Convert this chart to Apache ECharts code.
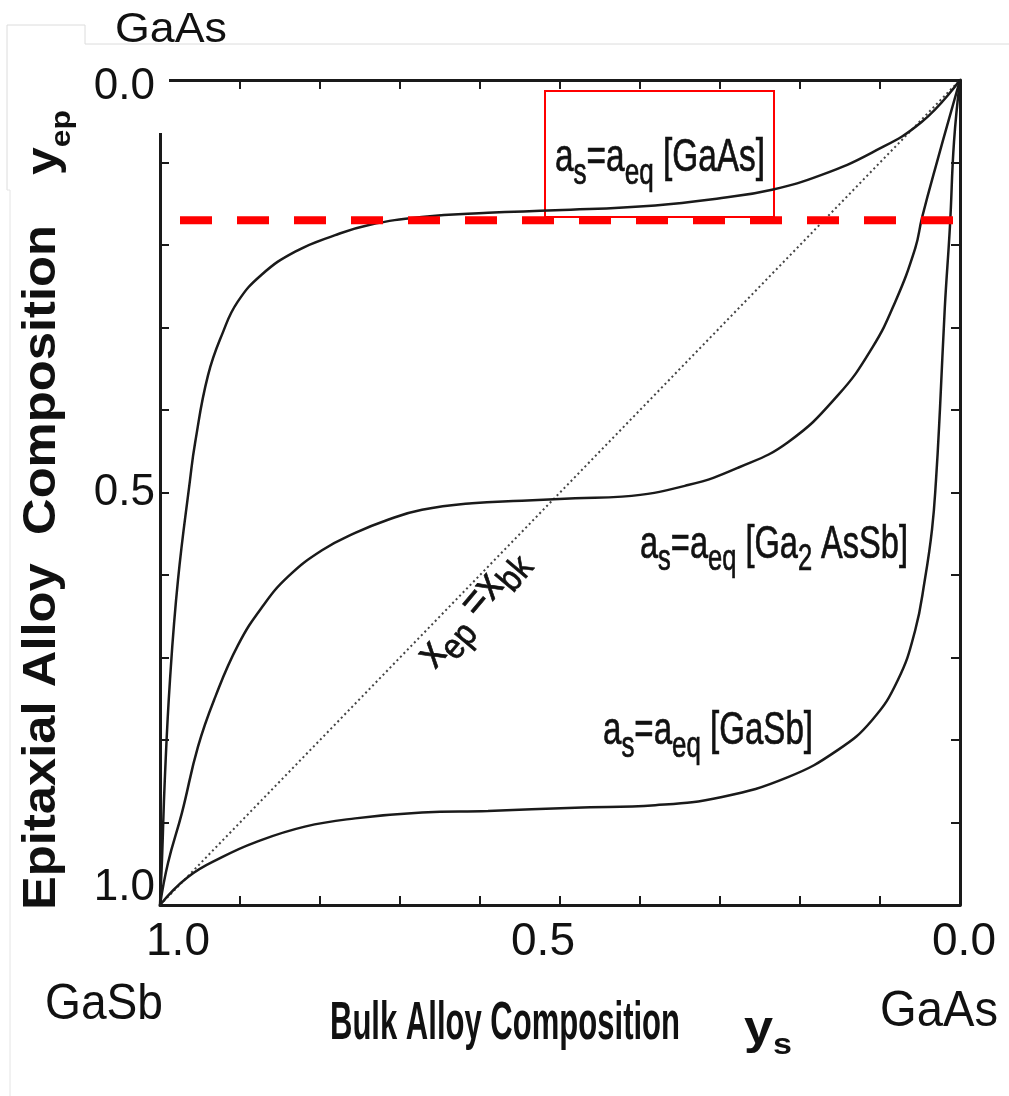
<!DOCTYPE html>
<html>
<head>
<meta charset="utf-8">
<title>Epitaxial vs bulk alloy composition</title>
<script src="https://cdn.jsdelivr.net/npm/echarts@6/dist/echarts.min.js"></script>
<style>
html, body { margin: 0; padding: 0; background: #fff; }
#chart { width: 1009px; height: 1096px; }
</style>
</head>
<body>
<div id="chart"></div>
<script>
// x: bulk alloy composition y_s (1.0 = GaSb on the left, 0.0 = GaAs on the right)
// y: epitaxial alloy composition y_ep (0.0 at the top)
const gaAsBulk = [0, 0.048, 0.110, 0.173, 0.235, 0.298, 0.381, 0.506, 0.590, 0.673, 0.740, 0.781, 0.831, 0.873, 0.903, 0.921, 0.940, 0.956, 0.9625, 0.9775, 0.9875, 0.994, 0.9975, 1.0];
const gaAsEpi  = [0, 0.051, 0.088, 0.115, 0.133, 0.143, 0.152, 0.158, 0.161, 0.166, 0.176, 0.188, 0.208, 0.236, 0.269, 0.305, 0.358, 0.439, 0.485, 0.606, 0.727, 0.848, 0.945, 1.0];

const ga2AsSbBulk = [0, 0.0275, 0.0475, 0.056, 0.081, 0.11, 0.1525, 0.215, 0.2775, 0.34, 0.4225, 0.481, 0.5475, 0.61, 0.6725, 0.715, 0.756, 0.7975, 0.84, 0.8725, 0.9025, 0.931, 0.9525, 0.9725, 0.99, 1.0];
const ga2AsSbEpi  = [0, 0.095, 0.167, 0.204, 0.269, 0.325, 0.382, 0.439, 0.470, 0.491, 0.505, 0.507, 0.510, 0.513, 0.521, 0.533, 0.549, 0.570, 0.602, 0.639, 0.685, 0.748, 0.808, 0.888, 0.949, 1.0];

const gaSbBulk = [0, 0.0075, 0.0125, 0.019, 0.025, 0.03, 0.035, 0.044, 0.056, 0.0775, 0.11, 0.1525, 0.215, 0.2975, 0.381, 0.481, 0.59, 0.6725, 0.756, 0.819, 0.881, 0.9225, 0.965, 1.0];
const gaSbEpi  = [0, 0.075, 0.176, 0.276, 0.398, 0.485, 0.545, 0.606, 0.667, 0.727, 0.776, 0.812, 0.845, 0.869, 0.879, 0.882, 0.886, 0.888, 0.895, 0.905, 0.924, 0.942, 0.966, 1.0];

// x_ep = x_bk reference line
const diagBulk = [1, 0];
const diagEpi  = [1, 0];

// red dashed level and red box round the GaAs label
const dashBulk = [1.0175, 0.006];
const dashEpi  = [0.17, 0.17];
const boxBulk = [0.51875, 0.2325];
const boxEpi  = [0.0133, 0.166];

const xTickValues = [1.0, 0.5, 0.0];
const xTickLabels = ['1.0', '0.5', '0.0'];
const yTickValues = [0.0, 0.5, 1.0];
const yTickLabels = ['0.0', '0.5', '1.0'];

const font = '"Liberation Sans", Arial, sans-serif';
const ink = '#111';

function pairs(xs, ys) {
    return xs.map(function (x, i) { return [x, ys[i]]; });
}

function tickIndex(values, v) {
    for (let i = 0; i < values.length; i++) {
        if (Math.abs(values[i] - v) < 1e-6) return i;
    }
    return -1;
}

// text made of normal and subscript runs, measured so it can be fitted to a width
const measure = document.createElement('canvas').getContext('2d');
function textRun(pieces, o) {
    const children = [];
    let cx = 0;
    pieces.forEach(function (p) {
        const sub = p[1] === 'sub';
        const size = sub ? o.subSize : o.size;
        const f = (o.weight || 'normal') + ' ' + size + 'px ' + font;
        const style = {
            text: p[0], font: f, fill: ink,
            align: 'left', verticalAlign: 'middle',
            textAlign: 'left', textVerticalAlign: 'middle'
        };
        if (o.stroke) {
            style.stroke = ink;
            style.lineWidth = o.stroke;
        }
        children.push({
            type: 'text',
            x: cx,
            y: sub ? 0.35 * (o.size - o.subSize) + o.subDrop : 0,
            style: style
        });
        measure.font = f;
        cx += measure.measureText(p[0]).width;
    });
    return {
        type: 'group',
        x: o.x, y: o.y,
        rotation: (o.angle || 0) * Math.PI / 180,
        scaleX: o.width ? o.width / cx : 1,
        scaleY: o.scaleY || 1,
        z: 10,
        children: children
    };
}

const labels = [
    textRun([['a'], ['s', 'sub'], ['=a'], ['eq', 'sub'], [' [GaAs]']],
        {x: 555, y: 158, size: 46, subSize: 36, subDrop: 13, width: 210, stroke: 0.7}),
    textRun([['a'], ['s', 'sub'], ['=a'], ['eq', 'sub'], [' [Ga'], ['2', 'sub'], [' AsSb]']],
        {x: 640, y: 545, size: 46, subSize: 36, subDrop: 12, width: 268, stroke: 0.7}),
    textRun([['a'], ['s', 'sub'], ['=a'], ['eq', 'sub'], [' [GaSb]']],
        {x: 603, y: 731, size: 46, subSize: 36, subDrop: 13, width: 210, stroke: 0.7}),
    textRun([['x'], ['ep', 'sub'], [' =x'], ['bk', 'sub']],
        {x: 426, y: 662, size: 44, subSize: 36, subDrop: 10, width: 142, angle: 50, stroke: 0.7}),
    textRun([['GaAs']], {x: 115, y: 30, size: 43, width: 112}),
    textRun([['GaSb']], {x: 45, y: 1005, size: 46, width: 118, scaleY: 1.08}),
    textRun([['GaAs']], {x: 880, y: 1012, size: 46, width: 118, scaleY: 1.08}),
    textRun([['Bulk Alloy Composition']],
        {x: 330, y: 1024, size: 48, weight: 'bold', width: 350, scaleY: 1.12}),
    textRun([['y'], ['s', 'sub']],
        {x: 744, y: 1030, size: 46, subSize: 30, subDrop: 10, weight: 'bold', width: 48}),
    textRun([['Epitaxial Alloy  Composition']],
        {x: 42, y: 910, size: 46, weight: 'bold', width: 685, angle: 90}),
    textRun([['y'], ['ep', 'sub']],
        {x: 45, y: 175, size: 44, subSize: 28, subDrop: 12, weight: 'bold', width: 65, angle: 90})
];

// faint frame lines of the pasted label boxes, and the patch that hides the axis corner
const frame = [
    {type: 'polyline', z: 1, shape: {points: [[7, 190], [7, 25], [85, 25], [85, 44], [1009, 44]]},
        style: {stroke: '#dcdcdc', lineWidth: 1, fill: null}},
    {type: 'polyline', z: 1, shape: {points: [[7, 190], [10, 190], [10, 1096]]},
        style: {stroke: '#e4e4e4', lineWidth: 1, fill: null}},
    {type: 'rect', z: 5, shape: {x: 156, y: 45, width: 13, height: 88}, style: {fill: '#fff'}}
];

const xRich = {
    x0: {fontSize: 46, fontFamily: font, color: ink, padding: [0, 0, 0, 36]},
    x1: {fontSize: 46, fontFamily: font, color: ink, padding: [0, 34, 0, 0]},
    x2: {fontSize: 46, fontFamily: font, color: ink, padding: [0, 0, 0, 8]}
};
const yRich = {
    y0: {fontSize: 44, fontFamily: font, color: ink, padding: [14, 0, 0, 0]},
    y1: {fontSize: 44, fontFamily: font, color: ink},
    y2: {fontSize: 44, fontFamily: font, color: ink, padding: [0, 0, 34, 0]}
};

const axisLine = {show: true, onZero: false, lineStyle: {color: '#1a1a1a', width: 3}};
const axisTick = {show: true, inside: true, length: 9, lineStyle: {color: '#1a1a1a', width: 2}};

function xAxis(pos, withLabels) {
    return {
        type: 'value', position: pos, min: 0, max: 1, interval: 0.1, inverse: true,
        axisLine: axisLine, axisTick: axisTick, splitLine: {show: false},
        axisLabel: {
            show: withLabels, margin: 14, fontSize: 46, fontFamily: font, color: ink,
            showMinLabel: true, showMaxLabel: true, hideOverlap: false,
            formatter: function (v) {
                const i = tickIndex(xTickValues, v);
                return i < 0 ? '' : '{x' + i + '|' + xTickLabels[i] + '}';
            },
            rich: xRich
        }
    };
}

function yAxis(pos, withLabels) {
    return {
        type: 'value', position: pos, min: 0, max: 1, interval: 0.1, inverse: true,
        axisLine: axisLine, axisTick: axisTick, splitLine: {show: false},
        axisLabel: {
            show: withLabels, margin: 5, fontSize: 44, fontFamily: font, color: ink,
            showMinLabel: true, showMaxLabel: true, hideOverlap: false,
            formatter: function (v) {
                const i = tickIndex(yTickValues, v);
                return i < 0 ? '' : '{y' + i + '|' + yTickLabels[i] + '}';
            },
            rich: yRich
        }
    };
}

const curve = {color: '#1a1a1a', width: 2.5};

const chart = echarts.init(document.getElementById('chart'), null, {renderer: 'canvas'});
chart.setOption({
    animation: false,
    backgroundColor: '#fff',
    grid: {left: 160, right: 49, top: 80, bottom: 191, containLabel: false, outerBoundsMode: 'none'},
    xAxis: [xAxis('bottom', true), xAxis('top', false)],
    yAxis: [yAxis('left', true), yAxis('right', false)],
    series: [
        {name: 'GaAs', type: 'line', data: pairs(gaAsBulk, gaAsEpi), symbol: 'none', smooth: 0.45, lineStyle: curve, z: 3},
        {name: 'Ga2AsSb', type: 'line', data: pairs(ga2AsSbBulk, ga2AsSbEpi), symbol: 'none', smooth: 0.45, lineStyle: curve, z: 3},
        {name: 'GaSb', type: 'line', data: pairs(gaSbBulk, gaSbEpi), symbol: 'none', smooth: 0.45, lineStyle: curve, z: 3},
        {name: 'xep=xbk', type: 'line', data: pairs(diagBulk, diagEpi), symbol: 'none',
            lineStyle: {color: '#444', width: 2, type: [2, 3]}, z: 2},
        {
            name: 'level', type: 'line', data: pairs(dashBulk, dashEpi), symbol: 'none', clip: false, z: 4,
            lineStyle: {color: '#ff0000', width: 8, type: [32, 25], dashOffset: 23, cap: 'butt'},
            markArea: {
                silent: true,
                label: {show: false},
                itemStyle: {color: 'rgba(0,0,0,0)', borderColor: '#ff0000', borderWidth: 2},
                data: [[{coord: [boxBulk[0], boxEpi[0]]}, {coord: [boxBulk[1], boxEpi[1]]}]]
            }
        }
    ],
    graphic: frame.concat(labels)
});
</script>
</body>
</html>
